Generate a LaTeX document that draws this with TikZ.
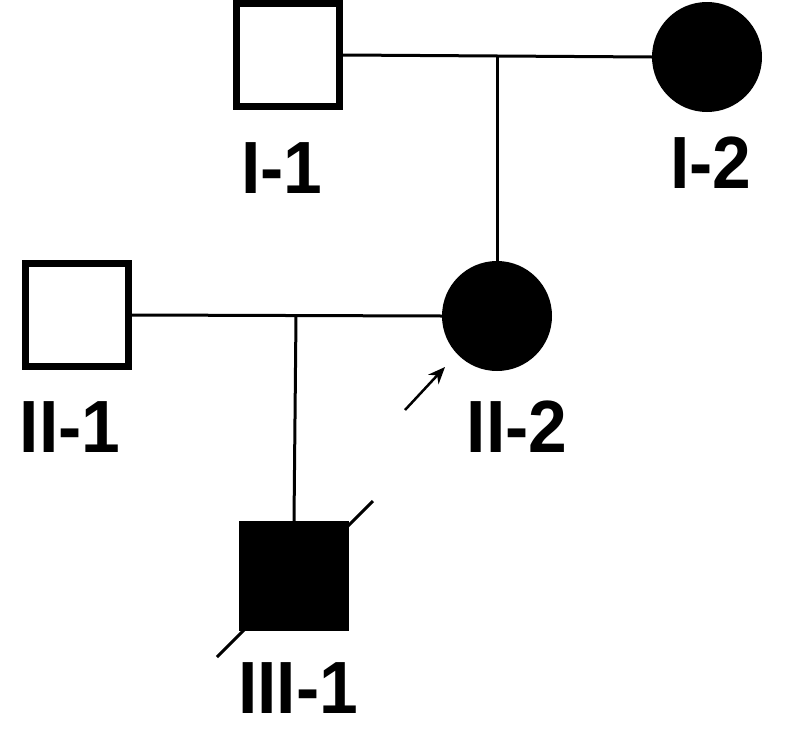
\documentclass[tikz,border=0pt]{standalone}
\usepackage{fontspec}
\setmainfont{Liberation Sans}[FakeStretch=0.94]
\usetikzlibrary{arrows.meta}
\tikzset{
  male/.style={draw, line width=7pt, rectangle, minimum size=103pt, inner sep=0pt},
  affmale/.style={fill, rectangle, minimum size=110pt, inner sep=0pt},
  afffemale/.style={fill, circle, minimum size=110pt, inner sep=0pt},
  lbl/.style={font=\fontsize{74}{76}\selectfont\bfseries, inner sep=0pt},
  link/.style={line width=3pt}
}
\begin{document}
\begin{tikzpicture}[x=1pt,y=-1pt]
    \useasboundingbox (0,0) rectangle (800,744);
    % Generation I
    \node[male] (I1) at (288,55) {};
    \node[afffemale] (I2) at (707,57) {};
    \node[lbl] (lI1) at (282,168) {I-1};
    \node[lbl] (lI2) at (711,163) {I-2};
    % Generation II
    \node[male] (II1) at (77,315) {};
    \node[afffemale] (II2) at (497,316) {};
    \node[lbl] (lII1) at (70,427) {II-1};
    \node[lbl] (lII2) at (517,427) {II-2};
    % Generation III
    \coordinate (s1) at (217,657);
    \coordinate (s2) at (373,501);
    \draw[link] (s1) -- (s2);
    \node[affmale] (III1) at (294,576) {};
    \node[lbl] (lIII1) at (298,688) {III-1};
    % Marriages and descent
    \draw[link] (I1.east) -- (I2.west);
    \coordinate (m1) at (497,55);
    \draw[link] (m1) -- (II2.north);
    \draw[link] (II1.east) -- (II2.west);
    \coordinate (m2) at (296,316);
    \draw[link] (m2) -- (III1.north);
    % Proband
    \coordinate (p1) at (405,410);
    \coordinate (p2) at (445,367);
    \draw[line width=2.5pt, -{Stealth[length=17pt,width=14pt]}] (p1) -- (p2);
\end{tikzpicture}
\end{document}
